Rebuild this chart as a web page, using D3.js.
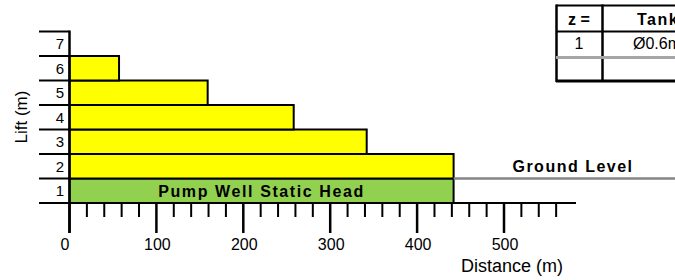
<!DOCTYPE html>
<html>
<head>
<meta charset="utf-8">
<script src="https://cdn.jsdelivr.net/npm/d3@7"></script>
<style>
  body { margin: 0; background: #fff; }
  svg { display: block; font-family: "Liberation Sans", Arial, sans-serif; }
</style>
</head>
<body>
<div id="chart"></div>
<script>
// lift levels and how far each level reaches (m)
const levels = [1, 2, 3, 4, 5, 6];
const reach = [442, 442, 342, 258, 159, 57];
const levelTicks = [1, 2, 3, 4, 5, 6, 7];
const majorTicks = [0, 100, 200, 300, 400, 500];
const minorTicks = d3.range(20, 580, 20).filter(d => d % 100 !== 0);
const tableHeader = ['z =', 'Tank'];
const tableRow = ['1', 'Ø0.6m'];

const width = 675, height = 280;
const svg = d3.select('#chart').append('svg')
  .attr('width', width)
  .attr('height', height);

const x = d3.scaleLinear().domain([0, 500]).range([69.5, 504]);
const y = d3.scaleLinear().domain([0, 7]).range([203, 31.5]);

// bars: level 1 is the pump well, the rest are lifts
svg.selectAll('.bar')
  .data(levels)
  .enter().append('rect')
  .attr('class', 'bar')
  .attr('x', x(0))
  .attr('y', d => y(d))
  .attr('width', (d, i) => x(reach[i]) - x(0))
  .attr('height', d => y(d - 1) - y(d))
  .attr('fill', d => d === 1 ? '#92D050' : '#FFFF00')
  .attr('stroke', '#000')
  .attr('stroke-width', 2);

// ground level line
svg.append('line')
  .attr('x1', x(reach[0])).attr('x2', width)
  .attr('y1', y(1)).attr('y2', y(1))
  .attr('stroke', '#858585')
  .attr('stroke-width', 2.5);

svg.append('text')
  .attr('x', 573).attr('y', 171.5)
  .attr('text-anchor', 'middle')
  .style('font-size', '16px').style('font-weight', 'bold')
  .style('letter-spacing', '1.5px')
  .text('Ground Level');

svg.append('text')
  .attr('x', (x(0) + x(reach[0])) / 2).attr('y', 196.5)
  .attr('text-anchor', 'middle')
  .style('font-size', '16px').style('font-weight', 'bold')
  .style('letter-spacing', '1.6px')
  .text('Pump Well Static Head');

// y axis: horizontal lines at each level, labels between them
svg.selectAll('.ygrid')
  .data(d3.range(0, 8))
  .enter().append('line')
  .attr('x1', 39).attr('x2', x(0))
  .attr('y1', d => y(d)).attr('y2', d => y(d))
  .attr('stroke', '#000').attr('stroke-width', 2);

svg.selectAll('.ylabel')
  .data(levelTicks)
  .enter().append('text')
  .attr('x', 64)
  .attr('y', d => (y(d) + y(d - 1)) / 2 + 5.5)
  .attr('text-anchor', 'end')
  .style('font-size', '15px')
  .text(d => d);

svg.append('line')
  .attr('x1', x(0)).attr('x2', x(0))
  .attr('y1', y(7) - 1).attr('y2', 233)
  .attr('stroke', '#000').attr('stroke-width', 2.5);

// x axis
svg.append('line')
  .attr('x1', 39).attr('x2', 576)
  .attr('y1', y(0)).attr('y2', y(0))
  .attr('stroke', '#000').attr('stroke-width', 2);

svg.selectAll('.minor')
  .data(minorTicks)
  .enter().append('line')
  .attr('x1', d => x(d)).attr('x2', d => x(d))
  .attr('y1', y(0)).attr('y2', 217)
  .attr('stroke', '#000').attr('stroke-width', 2);

svg.selectAll('.major')
  .data(majorTicks)
  .enter().append('line')
  .attr('x1', d => x(d)).attr('x2', d => x(d))
  .attr('y1', y(0)).attr('y2', 233)
  .attr('stroke', '#000').attr('stroke-width', 2.5);

svg.selectAll('.xlabel')
  .data(majorTicks)
  .enter().append('text')
  .attr('x', d => d === 0 ? x(d) : x(d) + 1)
  .attr('y', 250)
  .attr('text-anchor', d => d === 0 ? 'end' : 'middle')
  .style('font-size', '16px')
  .text(d => d);

svg.append('text')
  .attr('x', 512).attr('y', 272)
  .attr('text-anchor', 'middle')
  .style('font-size', '18px')
  .text('Distance (m)');

svg.append('text')
  .attr('transform', 'translate(27,117) rotate(-90)')
  .attr('text-anchor', 'middle')
  .style('font-size', '17px')
  .text('Lift (m)');

// table in the top right corner (cut off by the page edge)
const table = svg.append('g');
table.append('line').attr('x1', 556.5).attr('x2', 556.5).attr('y1', 4.5).attr('y2', 82)
  .attr('stroke', '#000').attr('stroke-width', 2.5);
table.append('line').attr('x1', 602.5).attr('x2', 602.5).attr('y1', 4.5).attr('y2', 82)
  .attr('stroke', '#000').attr('stroke-width', 2.5);
table.append('line').attr('x1', 556).attr('x2', width).attr('y1', 5.5).attr('y2', 5.5)
  .attr('stroke', '#000').attr('stroke-width', 2);
table.append('line').attr('x1', 556).attr('x2', width).attr('y1', 31.5).attr('y2', 31.5)
  .attr('stroke', '#000').attr('stroke-width', 2);
table.append('line').attr('x1', 556).attr('x2', width).attr('y1', 57.5).attr('y2', 57.5)
  .attr('stroke', '#A6A6A6').attr('stroke-width', 3);
table.append('line').attr('x1', 556).attr('x2', width).attr('y1', 81).attr('y2', 81)
  .attr('stroke', '#000').attr('stroke-width', 3);

table.append('text').attr('x', 579).attr('y', 25)
  .attr('text-anchor', 'middle')
  .style('font-size', '16px').style('font-weight', 'bold')
  .text(tableHeader[0]);
table.append('text').attr('x', 637).attr('y', 25)
  .style('font-size', '16px').style('font-weight', 'bold')
  .style('letter-spacing', '1.5px')
  .text(tableHeader[1]);
table.append('text').attr('x', 633).attr('y', 49)
  .style('font-size', '16px')
  .text(tableRow[1]);
table.append('text').attr('x', 579).attr('y', 49)
  .attr('text-anchor', 'middle')
  .style('font-size', '16px')
  .text(tableRow[0]);
</script>
</body>
</html>
